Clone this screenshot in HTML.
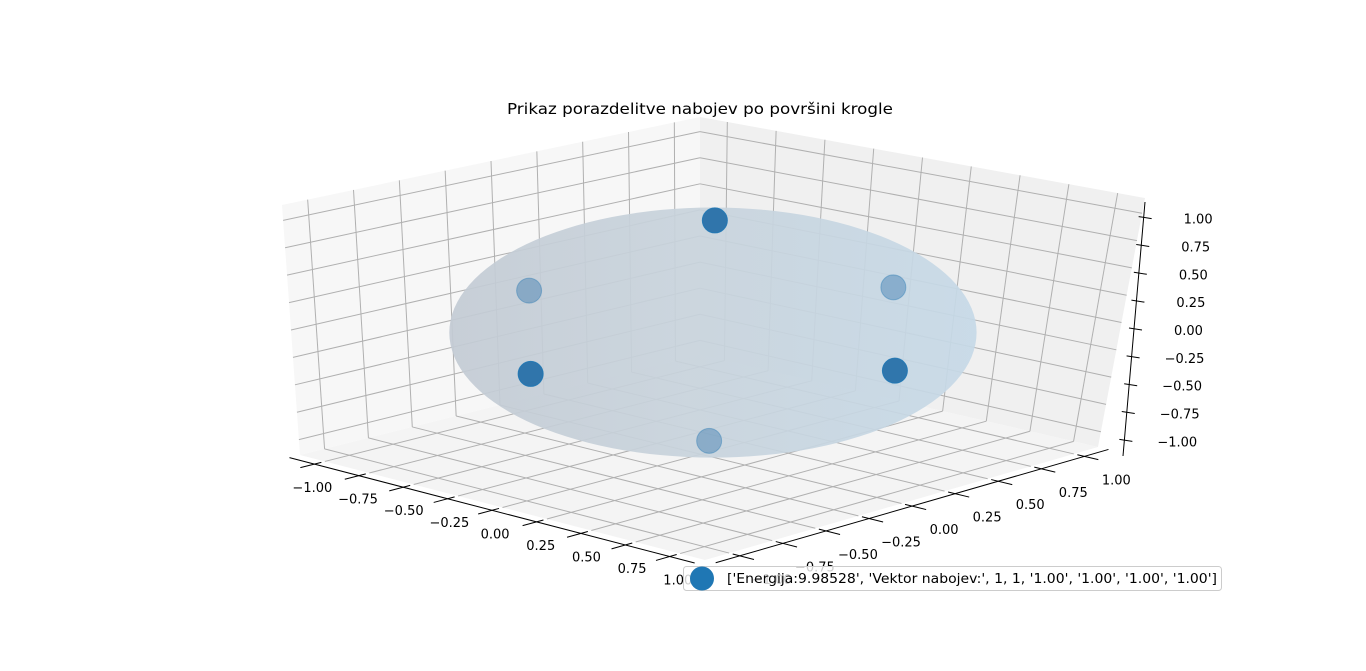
<!DOCTYPE html>
<html><head><meta charset="utf-8"><style>
html,body{margin:0;padding:0;background:#fff;}
svg{display:block;font-family:"DejaVu Sans","Liberation Sans",sans-serif;}
</style></head><body>
<svg id="chart" width="1366" height="671" viewBox="0 0 1366 671">
<rect width="1366" height="671" fill="#fff"/>
<text x="700" y="114" text-anchor="middle" font-size="15.5" textLength="386" lengthAdjust="spacingAndGlyphs" fill="#000">Prikaz porazdelitve nabojev po površini krogle</text>
<g id="panes"></g>
<g id="grid"></g>
<g id="sphere"></g>
<g id="points"></g>
<g id="axes"></g>
<g>
<rect x="683.5" y="566.5" width="538" height="24" rx="3" fill="#fff" fill-opacity="0.8" stroke="#ccc"/>
<circle cx="702" cy="578.5" r="12" fill="#1f77b4"/>
<text x="727" y="583" font-size="13" textLength="490" lengthAdjust="spacingAndGlyphs" fill="#000">['Energija:9.98528', 'Vektor nabojev:', 1, 1, '1.00', '1.00', '1.00', '1.00']</text>
</g>
</svg>
<script>
const ticks = [-1, -0.75, -0.5, -0.25, 0, 0.25, 0.5, 0.75, 1];
const tickLabels = ['−1.00','−0.75','−0.50','−0.25','0.00','0.25','0.50','0.75','1.00'];
const pointsX = [0, 0, -1, 0, 1, 0];
const pointsY = [0, 0, 0, -1, 0, 1];
const pointsZ = [1, -1, 0, 0, 0, 0];
const sphereRadius = [1];

const D = 1.14;
const C = {
  '000':[300,455],'010':[700,355],'110':[1098,447],'100':[705,560],
  '001':[282,205],'011':[700,117],'111':[1145,198],'101':[702,292]
};
function P(x,y,z){
  const u=(x+D)/(2*D), v=(y+D)/(2*D), w=(z+D)/(2*D);
  let sx=0, sy=0;
  for(const a of [0,1])for(const b of [0,1])for(const c of [0,1]){
    const wt=(a?u:1-u)*(b?v:1-v)*(c?w:1-w);
    const p=C[''+a+b+c]; sx+=wt*p[0]; sy+=wt*p[1];
  }
  return [sx,sy];
}
const NS='http://www.w3.org/2000/svg';
function mk(tag,attrs,parent){const e=document.createElementNS(NS,tag);for(const k in attrs)e.setAttribute(k,attrs[k]);parent.appendChild(e);return e;}
function poly(pts){return pts.map(p=>p[0].toFixed(1)+','+p[1].toFixed(1)).join(' ');}

const panes=document.getElementById('panes');
let e;
e=mk('polygon',{points:poly([P(-D,-D,-D),P(-D,D,-D),P(-D,D,D),P(-D,-D,D)]),fill:'#f7f7f7'},panes);


e=mk('polygon',{points:poly([P(-D,D,-D),P(D,D,-D),P(D,D,D),P(-D,D,D)]),fill:'#f0f0f0'},panes);


e=mk('polygon',{points:poly([P(-D,-D,-D),P(-D,D,-D),P(D,D,-D),P(D,-D,-D)]),fill:'#f4f4f4'},panes);



const grid=document.getElementById('grid');
function gl(a,b,name){const l=mk('line',{x1:a[0],y1:a[1],x2:b[0],y2:b[1],stroke:'#b0b0b0','stroke-width':1},grid);

}
ticks.forEach(t=>{
  gl(P(-D,t,-D),P(-D,t,D),'left-grid-y');
  gl(P(-D,-D,t),P(-D,D,t),'left-grid-z');
  gl(P(t,D,-D),P(t,D,D),'right-grid-x');
  gl(P(-D,D,t),P(D,D,t),'right-grid-z');
  gl(P(t,-D,-D),P(t,D,-D),'floor-grid-x');
  gl(P(-D,t,-D),P(D,t,-D),'floor-grid-y');
});

const sg=document.getElementById('sphere');
const r=sphereRadius[0];
let minx=1e9,maxx=-1e9,miny=1e9,maxy=-1e9;
for(let i=0;i<=36;i++)for(let j=0;j<=72;j++){
  const th=Math.PI*i/36, ph=2*Math.PI*j/72;
  const p=P(r*Math.sin(th)*Math.cos(ph),r*Math.sin(th)*Math.sin(ph),r*Math.cos(th));
  minx=Math.min(minx,p[0]);maxx=Math.max(maxx,p[0]);miny=Math.min(miny,p[1]);maxy=Math.max(maxy,p[1]);
}
const defs=mk('defs',{},sg);
const grad=mk('linearGradient',{id:'sg',x1:'0',y1:'0',x2:'1',y2:'0'},defs);
mk('stop',{offset:'0','stop-color':'#c3cbd4'},grad);
mk('stop',{offset:'0.45','stop-color':'#c8d3dc'},grad);
mk('stop',{offset:'1','stop-color':'#c6d9e7'},grad);
const cx=(minx+maxx)/2+8, cy=(miny+maxy)/2+2;
e=mk('ellipse',{cx:cx,cy:cy,rx:(maxx-minx)/2+6,ry:(maxy-miny)/2,fill:'url(#sg)','fill-opacity':0.92},sg);



const pg=document.getElementById('points');
const order=pointsX.map((_,i)=>i).sort((a,b)=>(pointsX[a]-pointsY[a]+0.5*pointsZ[a])-(pointsX[b]-pointsY[b]+0.5*pointsZ[b]));
order.forEach(i=>{
  const p=P(pointsX[i],pointsY[i],pointsZ[i]);
  const depth=pointsX[i]-pointsY[i]+0.5*pointsZ[i];
  const op=depth>0?0.9:0.38;
  const c=mk('circle',{cx:p[0]+8,cy:p[1]+2,r:12.5,fill:'#1f6aa5','fill-opacity':op,stroke:'#1f77b4','stroke-opacity':op},pg);
  
  
});

const ax=document.getElementById('axes');
function al(a,b,name,w){const l=mk('line',{x1:a[0],y1:a[1],x2:b[0],y2:b[1],stroke:'#000','stroke-width':w||1},ax);

}
function tx(p,s,anchor,name){const t=mk('text',{x:p[0],y:p[1],'font-size':13,'text-anchor':anchor,fill:'#000'},ax);t.textContent=s;

}
const xo=-D-0.06;
al(P(-D,xo,-D),P(D,xo,-D),'x-axis-line');
ticks.forEach((t,i)=>{
  al(P(t,xo+0.04,-D),P(t,xo-0.08,-D),'x-tick');
  const p=P(t,xo,-D);
  tx([p[0]-2+(t+1)*5,p[1]+28],tickLabels[i],'middle','x-tick-label');
});
const yo=D+0.06;
al(P(yo,-D,-D),P(yo,D,-D),'y-axis-line');
ticks.forEach((t,i)=>{
  al(P(yo-0.04,t,-D),P(yo+0.08,t,-D),'y-tick');
  const p=P(yo,t,-D);
  tx([p[0]+32,p[1]+28],tickLabels[i],'middle','y-tick-label');
});
function zA(z){const f=(z+D)/(2*D);return [1123+(1145-1123)*f,456+(202-456)*f];}
al(zA(-D),zA(D),'z-axis-line');
ticks.forEach((t,i)=>{
  const p=zA(t);
  al([p[0]-5,p[1]-1],[p[0]+8,p[1]+1],'z-tick');
  tx([p[0]+(t<0?33:40),p[1]+6],tickLabels[i],'start','z-tick-label');
});
</script>
</body></html>
